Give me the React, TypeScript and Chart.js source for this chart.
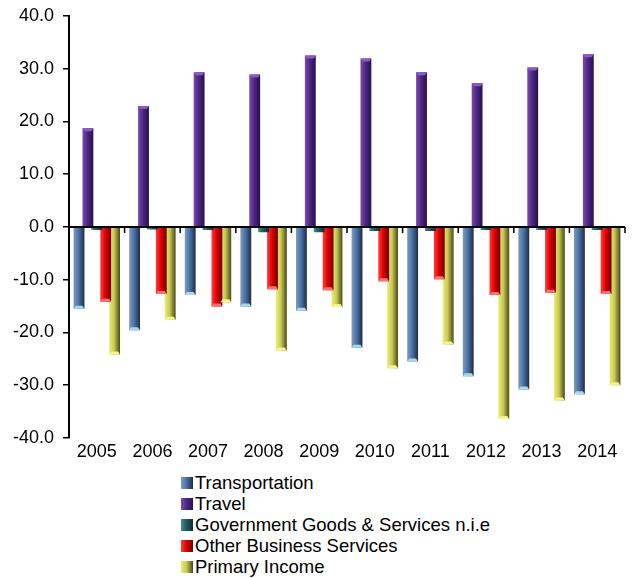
import React, { useEffect, useRef } from "react";
import { Chart, registerables } from "chart.js";

Chart.register(...registerables);

const years = ["2005", "2006", "2007", "2008", "2009", "2010", "2011", "2012", "2013", "2014"];
const transportation = [-15.5, -19.6, -12.9, -15.1, -15.9, -22.9, -25.5, -28.3, -30.8, -31.7];
const travel = [18.7, 22.9, 29.3, 28.9, 32.5, 31.9, 29.3, 27.2, 30.2, 32.7];
const government = [-0.6, -0.5, -0.6, -1.0, -1.0, -0.8, -0.8, -0.6, -0.6, -0.6];
const otherBusiness = [-14.2, -12.7, -15.1, -11.8, -12.0, -10.3, -9.9, -12.9, -12.5, -12.7];
const primaryIncome = [-24.2, -17.6, -14.3, -23.4, -15.2, -26.8, -22.3, -36.4, -32.9, -30.0];
const yTicks = [-40, -30, -20, -10, 0, 10, 20, 30, 40];

const seriesNames = [
  "Transportation",
  "Travel",
  "Government Goods & Services n.i.e",
  "Other Business Services",
  "Primary Income",
];
const palettes: string[][] = [
  ["#7d9cb6", "#4a72ac", "#1f2d3d"],
  ["#7a4cab", "#4e2784", "#26104a"],
  ["#4a8a90", "#1f5b60", "#0d2d30"],
  ["#ff4040", "#e00000", "#700000"],
  ["#ecec7a", "#c9c952", "#4a4a1a"],
];
const capColors = ["#a9d8e6", "#8a5cc8", "#6fb0b5", "#ff7070", "#f4f488"];

const FONT = "'Liberation Sans', Arial, sans-serif";
const CAT_PCT = 0.8;
const BAR_PCT = 1.22;

function gradientFor(colors: string[]) {
  return (c: any) => {
    const chart = c.chart;
    const xs = chart.scales && chart.scales.x;
    if (!xs || c.type !== "data" || !isFinite(xs.width)) return colors[1];
    const cw = xs.width / years.length;
    const slot = (cw * CAT_PCT) / 5;
    const w = slot * BAR_PCT;
    const cx = xs.getPixelForValue(c.dataIndex) + (c.datasetIndex - 2) * slot;
    if (!isFinite(cx)) return colors[1];
    const g = chart.ctx.createLinearGradient(cx - w / 2, 0, cx + w / 2, 0);
    g.addColorStop(0, colors[0]);
    g.addColorStop(0.45, colors[1]);
    g.addColorStop(1, colors[2]);
    return g;
  };
}

const capPlugin = {
  id: "caps",
  afterDatasetsDraw(chart: any) {
    const { ctx } = chart;
    ctx.save();
    chart.data.datasets.forEach((_: any, di: number) => {
      if (di === 2) return;
      const meta = chart.getDatasetMeta(di);
      meta.data.forEach((el: any) => {
        const { x, y, base, width } = el.getProps(["x", "y", "base", "width"], true);
        const h = 3;
        const dir = y > base ? -1 : 1;
        ctx.fillStyle = capColors[di];
        ctx.beginPath();
        ctx.moveTo(x - width / 2, y);
        ctx.lineTo(x + width / 2, y);
        ctx.lineTo(x + width / 2 - 2, y + dir * h);
        ctx.lineTo(x - width / 2 + 2, y + dir * h);
        ctx.closePath();
        ctx.fill();
      });
    });
    ctx.restore();
  },
};

const zeroAxisPlugin = {
  id: "zeroAxis",
  afterDatasetsDraw(chart: any) {
    const { ctx, chartArea, scales } = chart;
    const y0 = scales.y.getPixelForValue(0);
    const xs = scales.x;
    const cw = xs.width / years.length;
    ctx.save();
    ctx.strokeStyle = "#000";
    ctx.lineWidth = 2;
    ctx.beginPath();
    ctx.moveTo(chartArea.left, y0);
    ctx.lineTo(chartArea.right, y0);
    ctx.stroke();
    ctx.lineWidth = 1.5;
    ctx.beginPath();
    for (let i = 1; i <= years.length; i++) {
      const x = xs.left + i * cw;
      ctx.moveTo(x, y0);
      ctx.lineTo(x, y0 + 6);
    }
    ctx.stroke();
    ctx.restore();
  },
};

export default function App() {
  const ref = useRef<HTMLCanvasElement>(null);

  useEffect(() => {
    if (!ref.current) return;
    const allData = [transportation, travel, government, otherBusiness, primaryIncome];
    const chart = new Chart(ref.current, {
      type: "bar",
      data: {
        labels: years,
        datasets: allData.map((d, i) => ({
          label: seriesNames[i],
          data: d,
          backgroundColor: gradientFor(palettes[i]),
          borderWidth: 0,
          categoryPercentage: CAT_PCT,
          barPercentage: BAR_PCT,
        })),
      },
      options: {
        animation: false,
        responsive: false,
        maintainAspectRatio: false,
        layout: { padding: { top: 3, right: 10, left: 0, bottom: 0 } },
        plugins: {
          legend: { display: false },
          tooltip: { enabled: false },
        },
        scales: {
          x: {
            grid: { display: false, drawTicks: false },
            border: { display: false },
            ticks: {
              color: "#000",
              font: { family: FONT, size: 18 },
              padding: 3,
              maxRotation: 0,
            },
            afterFit: (s: any) => {
              s.height = 32;
            },
          },
          y: {
            min: -40,
            max: 40,
            afterBuildTicks: (s: any) => {
              s.ticks = yTicks.map((v) => ({ value: v }));
            },
            ticks: {
              color: "#000",
              font: { family: FONT, size: 18 },
              padding: 9,
              callback: (v: any) => Number(v).toFixed(1),
            },
            grid: {
              drawOnChartArea: false,
              drawTicks: true,
              tickLength: 6,
              color: "#000",
              lineWidth: 1.5,
            },
            border: { display: true, color: "#000", width: 2 },
            afterFit: (s: any) => {
              s.width = 69;
            },
          },
        },
      },
      plugins: [zeroAxisPlugin, capPlugin],
    });
    return () => chart.destroy();
  }, []);

  return (
    <div style={{ position: "absolute", left: 0, top: 0, width: 635, height: 578, background: "#fff", overflow: "hidden" }}>
      <canvas ref={ref} width={635} height={474} style={{ position: "absolute", left: 0, top: -4 }} />
      <div style={{ position: "absolute", left: 181, top: 472, fontFamily: FONT, fontSize: 18.5, color: "#000" }}>
        {seriesNames.map((name, i) => (
          <div key={name} style={{ display: "flex", alignItems: "center", height: 21, whiteSpace: "nowrap" }}>
            <span
              style={{
                display: "inline-block",
                width: 12,
                height: 12,
                marginRight: 2,
                background: `linear-gradient(90deg, ${palettes[i][0]}, ${palettes[i][1]} 45%, ${palettes[i][2]})`,
              }}
            />
            <span>{name}</span>
          </div>
        ))}
      </div>
    </div>
  );
}
